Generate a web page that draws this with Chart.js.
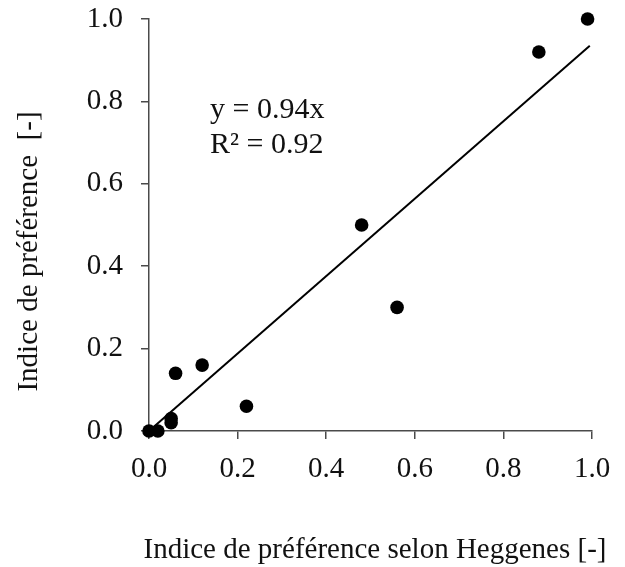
<!DOCTYPE html>
<html>
<head>
<meta charset="utf-8">
<script src="https://cdn.jsdelivr.net/npm/chart.js@4/dist/chart.umd.min.js"></script>
<style>
  html, body { margin: 0; padding: 0; background: #ffffff; }
  #wrap { width: 625px; height: 567px; }
</style>
</head>
<body>
<div id="wrap"><canvas id="c" width="625" height="567"></canvas></div>
<script>
// ---- data ----
const xValues = [0.00, 0.02, 0.05, 0.05, 0.06, 0.12, 0.22, 0.48, 0.56, 0.88, 0.99];
const yValues = [0.00, 0.00, 0.03, 0.02, 0.14, 0.16, 0.06, 0.50, 0.30, 0.92, 1.00];
const trendSlope = 0.94;
const trendX = [0, 0.995];
const xTickValues = [0.0, 0.2, 0.4, 0.6, 0.8, 1.0];
const yTickValues = [0.0, 0.2, 0.4, 0.6, 0.8, 1.0];
const xTitle = 'Indice de préférence selon Heggenes [-]';
const yTitle = 'Indice de préférence  [-]';
const equationLines = ['y = 0.94x', 'R² = 0.92'];

const FONT = '"Liberation Serif", "Times New Roman", serif';
const AXIS = '#4a4a4a';
const TEXT = '#111111';

const points = xValues.map((x, i) => ({ x: x, y: yValues[i] }));
const trend = trendX.map(x => ({ x: x, y: trendSlope * x }));

const textPlugin = {
  id: 'texts',
  afterDraw(chart) {
    const ctx = chart.ctx;
    ctx.save();
    ctx.fillStyle = TEXT;
    // equation
    ctx.font = '30px ' + FONT;
    ctx.textAlign = 'left';
    ctx.textBaseline = 'alphabetic';
    ctx.fillText(equationLines[0], 210, 118);
    ctx.fillText(equationLines[1], 210, 153);
    // x title
    ctx.font = '29px ' + FONT;
    ctx.textAlign = 'center';
    ctx.fillText(xTitle, 375, 558);
    // y title
    ctx.translate(37, 251.5);
    ctx.rotate(-Math.PI / 2);
    ctx.fillText(yTitle, 0, 0);
    ctx.restore();
  }
};

const axisCommon = (vals) => ({
  type: 'linear',
  min: 0,
  max: 1,
  afterBuildTicks: (s) => { s.ticks = vals.map(v => ({ value: v })); },
  grid: {
    display: true,
    drawOnChartArea: false,
    drawTicks: true,
    tickLength: 8,
    color: AXIS,
    lineWidth: 1.5
  },
  border: { display: true, color: AXIS, width: 1.5 },
  ticks: {
    color: TEXT,
    font: { family: FONT, size: 29 },
    callback: (v) => Number(v).toFixed(1)
  },
  title: { display: false }
});

const xAxis = axisCommon(xTickValues);
xAxis.position = 'bottom';
xAxis.ticks.padding = 13;
xAxis.ticks.maxRotation = 0;
xAxis.afterFit = (s) => { s.height = 567 - 431; s.paddingLeft = 0; s.paddingRight = 0; };

const yAxis = axisCommon(yTickValues);
yAxis.position = 'left';
yAxis.ticks.padding = 18;
yAxis.afterFit = (s) => { s.width = 149; s.paddingTop = 0; s.paddingBottom = 0; };

new Chart(document.getElementById('c'), {
  type: 'scatter',
  data: {
    datasets: [
      {
        type: 'line',
        data: trend,
        borderColor: '#000000',
        borderWidth: 2,
        pointRadius: 0,
        fill: false,
        clip: false,
        order: 2
      },
      {
        type: 'scatter',
        data: points,
        backgroundColor: '#000000',
        borderColor: '#000000',
        pointRadius: 6.8,
        pointBorderWidth: 0,
        clip: false,
        order: 1
      }
    ]
  },
  options: {
    responsive: false,
    animation: false,
    devicePixelRatio: 1,
    layout: { padding: { top: 19, right: 33, left: 0, bottom: 0 } },
    plugins: { legend: { display: false }, tooltip: { enabled: false } },
    scales: { x: xAxis, y: yAxis }
  },
  plugins: [textPlugin]
});
</script>
</body>
</html>
